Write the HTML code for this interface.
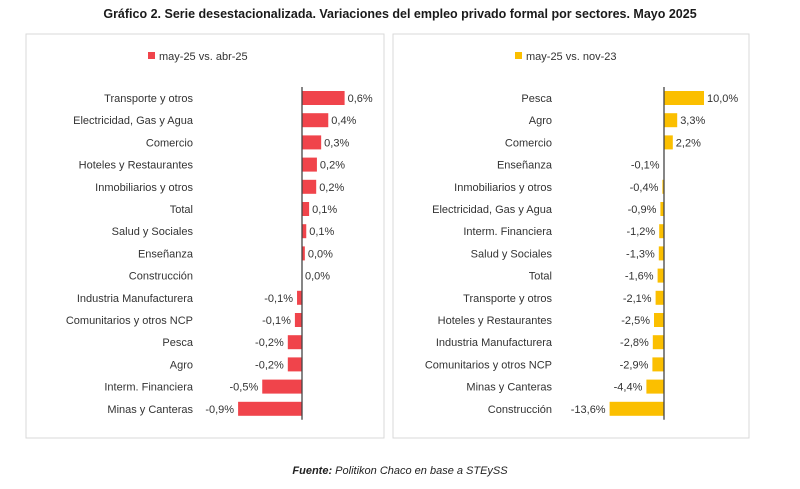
<!DOCTYPE html>
<html><head><meta charset="utf-8"><style>
body{margin:0;width:800px;height:489px;background:#fff;font-family:"Liberation Sans",sans-serif;position:relative;overflow:hidden}
svg{position:absolute;left:0;top:0}
</style></head><body>
<svg id="c" width="800" height="489">
<text x="400" y="18" text-anchor="middle" font-size="12.5" font-weight="bold" fill="#1a1a1a">Gráfico 2. Serie desestacionalizada. Variaciones del empleo privado formal por sectores. Mayo 2025</text>
<rect x="26" y="34" width="358" height="404" fill="#fff" stroke="#d9d9d9"/>
<rect x="393" y="34" width="356" height="404" fill="#fff" stroke="#d9d9d9"/>
<rect x="148" y="52" width="7" height="7" fill="#f0444b"/>
<text x="159" y="60" font-size="11" fill="#333">may-25 vs. abr-25</text>
<rect x="515" y="52" width="7" height="7" fill="#fbbf00"/>
<text x="526" y="60" font-size="11" fill="#333">may-25 vs. nov-23</text>
<text x="400" y="474" text-anchor="middle" font-size="11" font-style="italic" fill="#222"><tspan font-weight="bold">Fuente:</tspan> Politikon Chaco en base a STEySS</text>
</svg>
<script>
const leftCats=["Transporte y otros","Electricidad, Gas y Agua","Comercio","Hoteles y Restaurantes","Inmobiliarios y otros","Total","Salud y Sociales","Enseñanza","Construcción","Industria Manufacturera","Comunitarios y otros NCP","Pesca","Agro","Interm. Financiera","Minas y Canteras"];
const leftVals=[0.6,0.37,0.27,0.21,0.2,0.1,0.06,0.04,0,-0.07,-0.1,-0.2,-0.2,-0.56,-0.9];
const leftLabels=["0,6%","0,4%","0,3%","0,2%","0,2%","0,1%","0,1%","0,0%","0,0%","-0,1%","-0,1%","-0,2%","-0,2%","-0,5%","-0,9%"];
const rightCats=["Pesca","Agro","Comercio","Enseñanza","Inmobiliarios y otros","Electricidad, Gas y Agua","Interm. Financiera","Salud y Sociales","Total","Transporte y otros","Hoteles y Restaurantes","Industria Manufacturera","Comunitarios y otros NCP","Minas y Canteras","Construcción"];
const rightVals=[10.0,3.3,2.2,-0.1,-0.4,-0.9,-1.2,-1.3,-1.6,-2.1,-2.5,-2.8,-2.9,-4.4,-13.6];
const rightLabels=["10,0%","3,3%","2,2%","-0,1%","-0,4%","-0,9%","-1,2%","-1,3%","-1,6%","-2,1%","-2,5%","-2,8%","-2,9%","-4,4%","-13,6%"];
const svg=document.getElementById('c');const NS="http://www.w3.org/2000/svg";
function mk(t,a){const e=document.createElementNS(NS,t);for(const k in a)e.setAttribute(k,a[k]);svg.appendChild(e);return e;}
function draw(cats,vals,labs,zeroX,pxPer,labelX,color,side){
  const y0=98,step=22.2,h=14;
  const yOf=i=>y0+i*step;
  const xOf=v=>zeroX+v*pxPer;
  cats.forEach((c,i)=>{
    const y=yOf(i),v=vals[i],x=xOf(v);
    const r=mk('rect',{x:Math.min(x,zeroX),y:y-h/2,width:Math.abs(x-zeroX),height:h,fill:color});
    
    
    const t=mk('text',{x:labelX,y:y+4,'text-anchor':'end','font-size':11,fill:'#333'});t.textContent=c;
    
    
    let lx,anc;
    if(v>=0){lx=x+3;anc='start';}else{lx=x-4;anc='end';}
    const l=mk('text',{x:lx,y:y+4,'text-anchor':anc,'font-size':11,fill:'#333'});l.textContent=labs[i];
    
    
  });
  const ax=mk('line',{x1:zeroX,x2:zeroX,y1:y0-11,y2:yOf(cats.length-1)+11,stroke:'#444','stroke-width':1.3});
  
  
}
draw(leftCats,leftVals,leftLabels,302,71,193,'#f0444b','left');
draw(rightCats,rightVals,rightLabels,664,4.0,552,'#fbbf00','right');
</script>
</body></html>
